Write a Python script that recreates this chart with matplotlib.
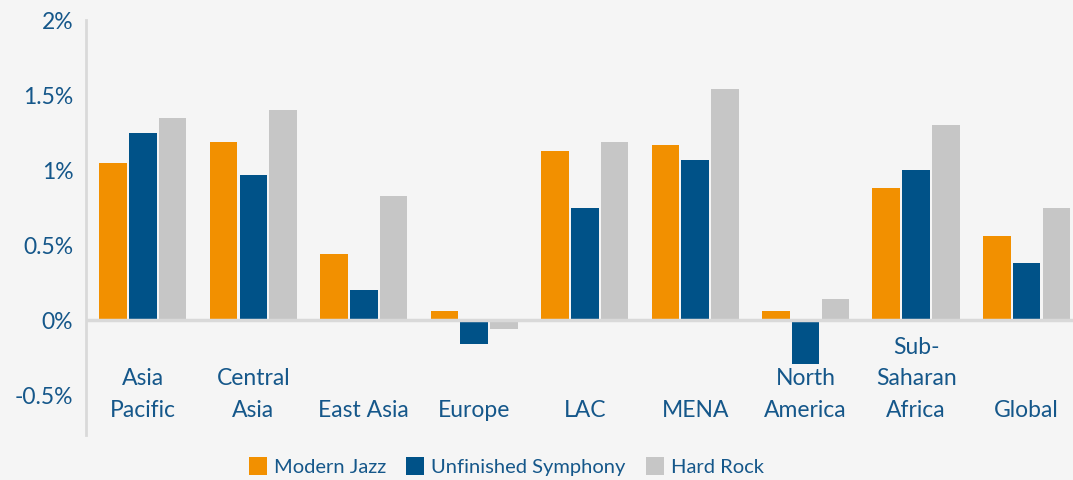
import numpy as np
import matplotlib.pyplot as plt

# data (percent)
regions = ["Asia\nPacific", "Central\nAsia", "East Asia", "Europe", "LAC",
           "MENA", "North\nAmerica", "Sub-\nSaharan\nAfrica", "Global"]
modern_jazz = [1.05, 1.19, 0.44, 0.06, 1.13, 1.17, 0.06, 0.88, 0.56]
unfinished_symphony = [1.25, 0.97, 0.20, -0.16, 0.75, 1.07, -0.29, 1.00, 0.38]
hard_rock = [1.35, 1.40, 0.83, -0.06, 1.19, 1.54, 0.14, 1.30, 0.75]
series_names = ["Modern Jazz", "Unfinished Symphony", "Hard Rock"]
y_ticks = [-0.5, 0, 0.5, 1, 1.5, 2]
y_tick_labels = ["-0.5%", "0%", "0.5%", "1%", "1.5%", "2%"]

ORANGE = "#F29000"
NAVY = "#005288"
GRAY = "#C6C6C6"
TEXT = "#15578A"
BG = "#F5F5F5"
LINE = "#D9D9D9"

plt.rcParams["font.family"] = ["Lato", "DejaVu Sans"]

fig = plt.figure(figsize=(10.73, 4.8), dpi=100, facecolor=BG)
ax = fig.add_axes([0.080, 0.094, 0.920, 0.864], facecolor=BG)

x = np.arange(len(regions))
w = 0.25
step = 0.27
colors = [ORANGE, NAVY, GRAY]
bars = []
for i, (vals, c) in enumerate(zip([modern_jazz, unfinished_symphony, hard_rock], colors)):
    b = ax.bar(x + (i - 1) * step, vals, width=w, color=c, zorder=2,
               label=series_names[i])
    bars.append(b)

ax.axhline(0, color=LINE, lw=2.5, zorder=3)

ax.set_xlim(-0.516, 8.42)
ax.set_ylim(-0.765, 2.0)
ax.set_yticks(y_ticks)
ax.set_yticklabels(y_tick_labels)
ax.tick_params(axis="y", length=0, pad=9, labelsize=16.5, labelcolor=TEXT)
ax.set_xticks([])

for s in ["top", "right", "bottom"]:
    ax.spines[s].set_visible(False)
ax.spines["left"].set_color(LINE)
ax.spines["left"].set_linewidth(2)

for xi, name in zip(x, regions):
    ax.text(xi, -0.645, name, ha="center", va="baseline", fontsize=16.5,
            color=TEXT, linespacing=1.62, multialignment="center")

leg = fig.legend(handles=bars, loc="lower center", bbox_to_anchor=(0.472, -0.03),
                 ncol=3, frameon=False, fontsize=14.5, handlelength=0.9,
                 handleheight=1.0, handletextpad=0.35, columnspacing=1.0)
for t in leg.get_texts():
    t.set_color(TEXT)

fig.savefig("out.png", dpi=100, facecolor=BG)
